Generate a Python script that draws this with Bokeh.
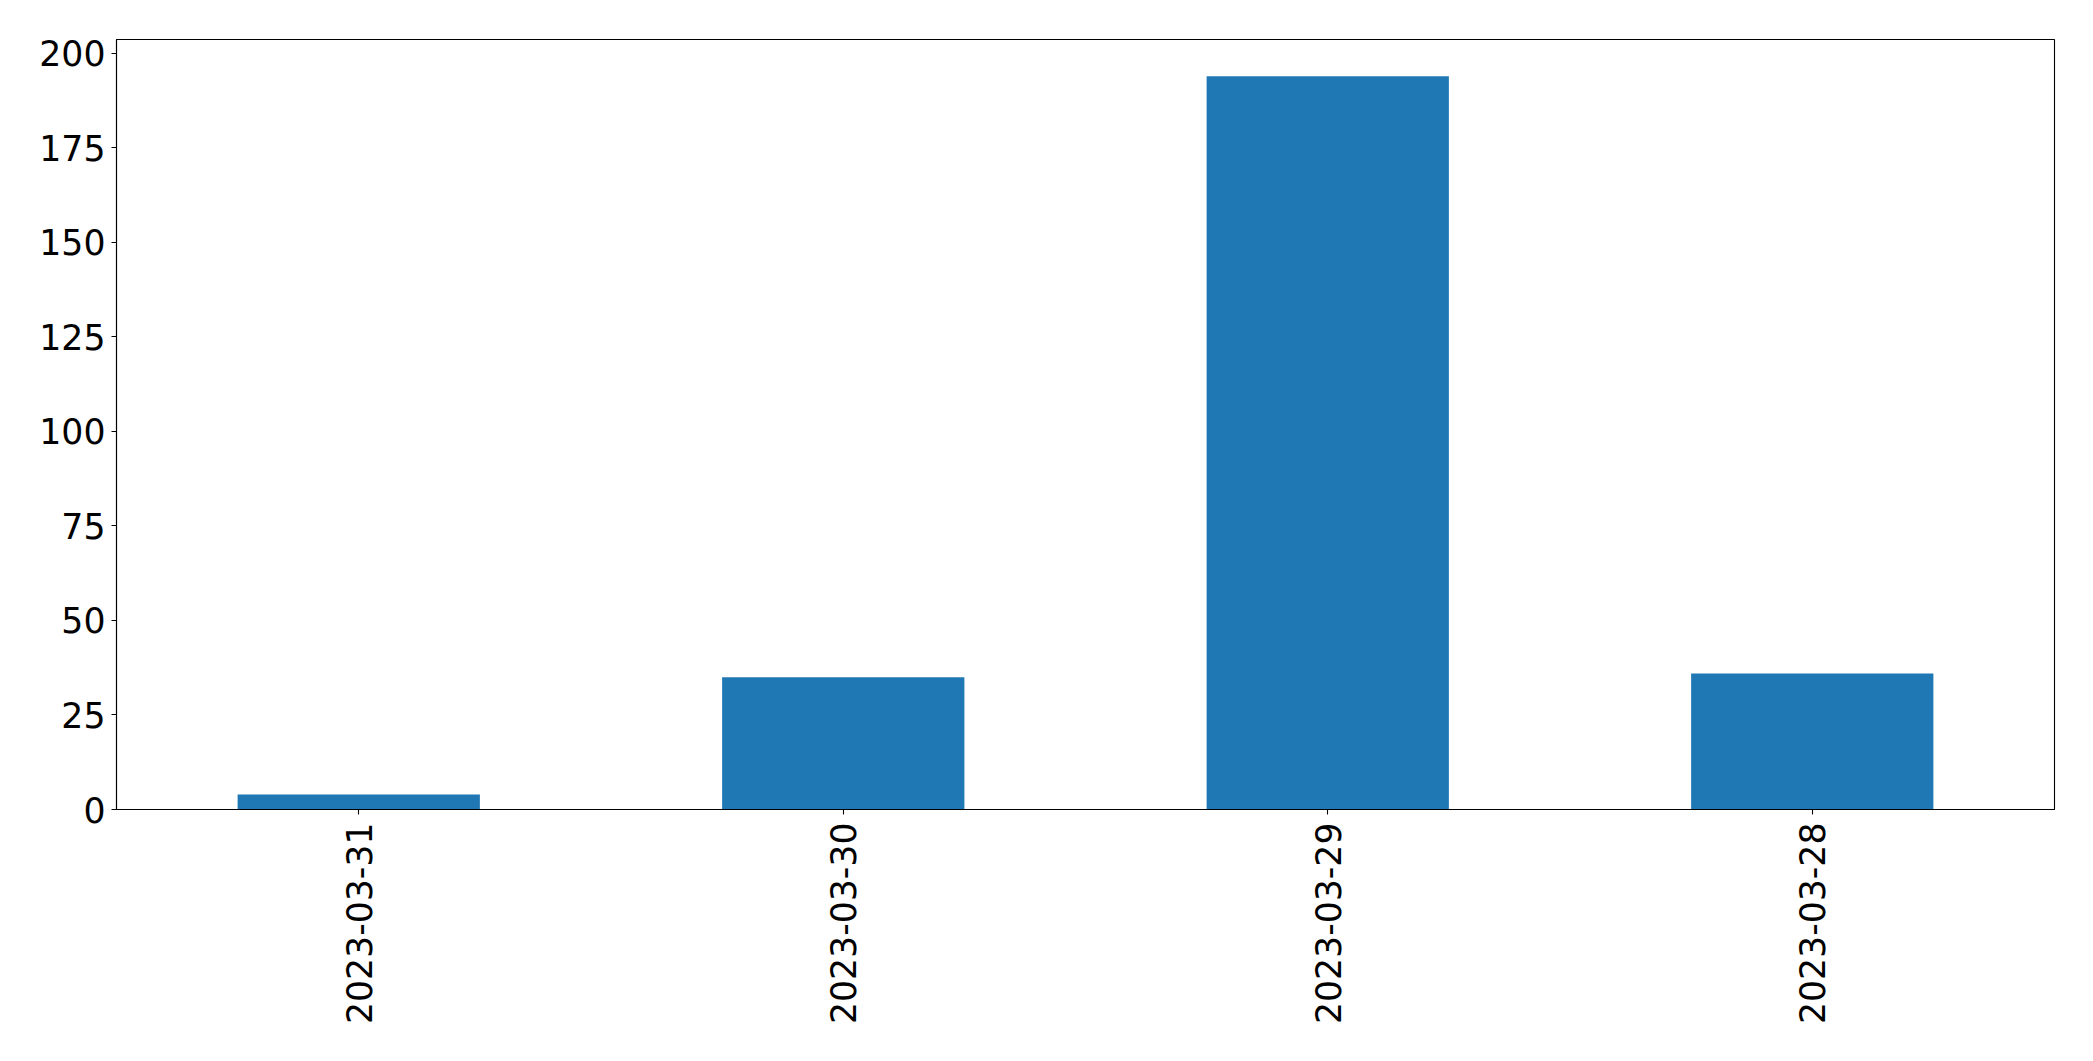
import math
from bokeh.plotting import figure
from bokeh.models import FactorRange, Range1d, FixedTicker, ColumnDataSource
from bokeh.embed import file_html
from bokeh.resources import INLINE

dates = ["2023-03-31", "2023-03-30", "2023-03-29", "2023-03-28"]
counts = [4, 35, 194, 36]
y_ticks = [0, 25, 50, 75, 100, 125, 150, 175, 200]

src = ColumnDataSource(dict(x=dates, top=counts))

p = figure(
    x_range=FactorRange(*dates, range_padding=0),
    y_range=Range1d(0, max(counts) * 1.05),
    width=2085, height=1053,
    output_backend="svg", toolbar_location=None,
    min_border_left=116, min_border_right=31, min_border_top=39, min_border_bottom=244,
)
p.vbar(x="x", top="top", width=0.5, source=src, color="#1f77b4", line_color=None)

p.xgrid.visible = False
p.ygrid.visible = False
p.outline_line_color = "black"
p.outline_line_width = 1.1
p.outline_line_alpha = 1

for ax in (p.xaxis[0], p.yaxis[0]):
    ax.major_label_text_font = "DejaVu Sans"
    ax.major_label_text_font_size = "34.7px"
    ax.major_label_text_color = "black"
    ax.axis_line_color = "black"
    ax.axis_line_width = 1.1
    ax.major_tick_line_color = "black"
    ax.major_tick_line_width = 1.1
    ax.major_tick_out = 5
    ax.major_tick_in = 0
    ax.minor_tick_line_color = None

p.yaxis[0].ticker = FixedTicker(ticks=y_ticks)
p.yaxis[0].major_label_standoff = 6
p.xaxis[0].major_label_orientation = math.pi / 2
p.xaxis[0].major_label_standoff = 8

open("out.html", "w").write(file_html(p, INLINE))
